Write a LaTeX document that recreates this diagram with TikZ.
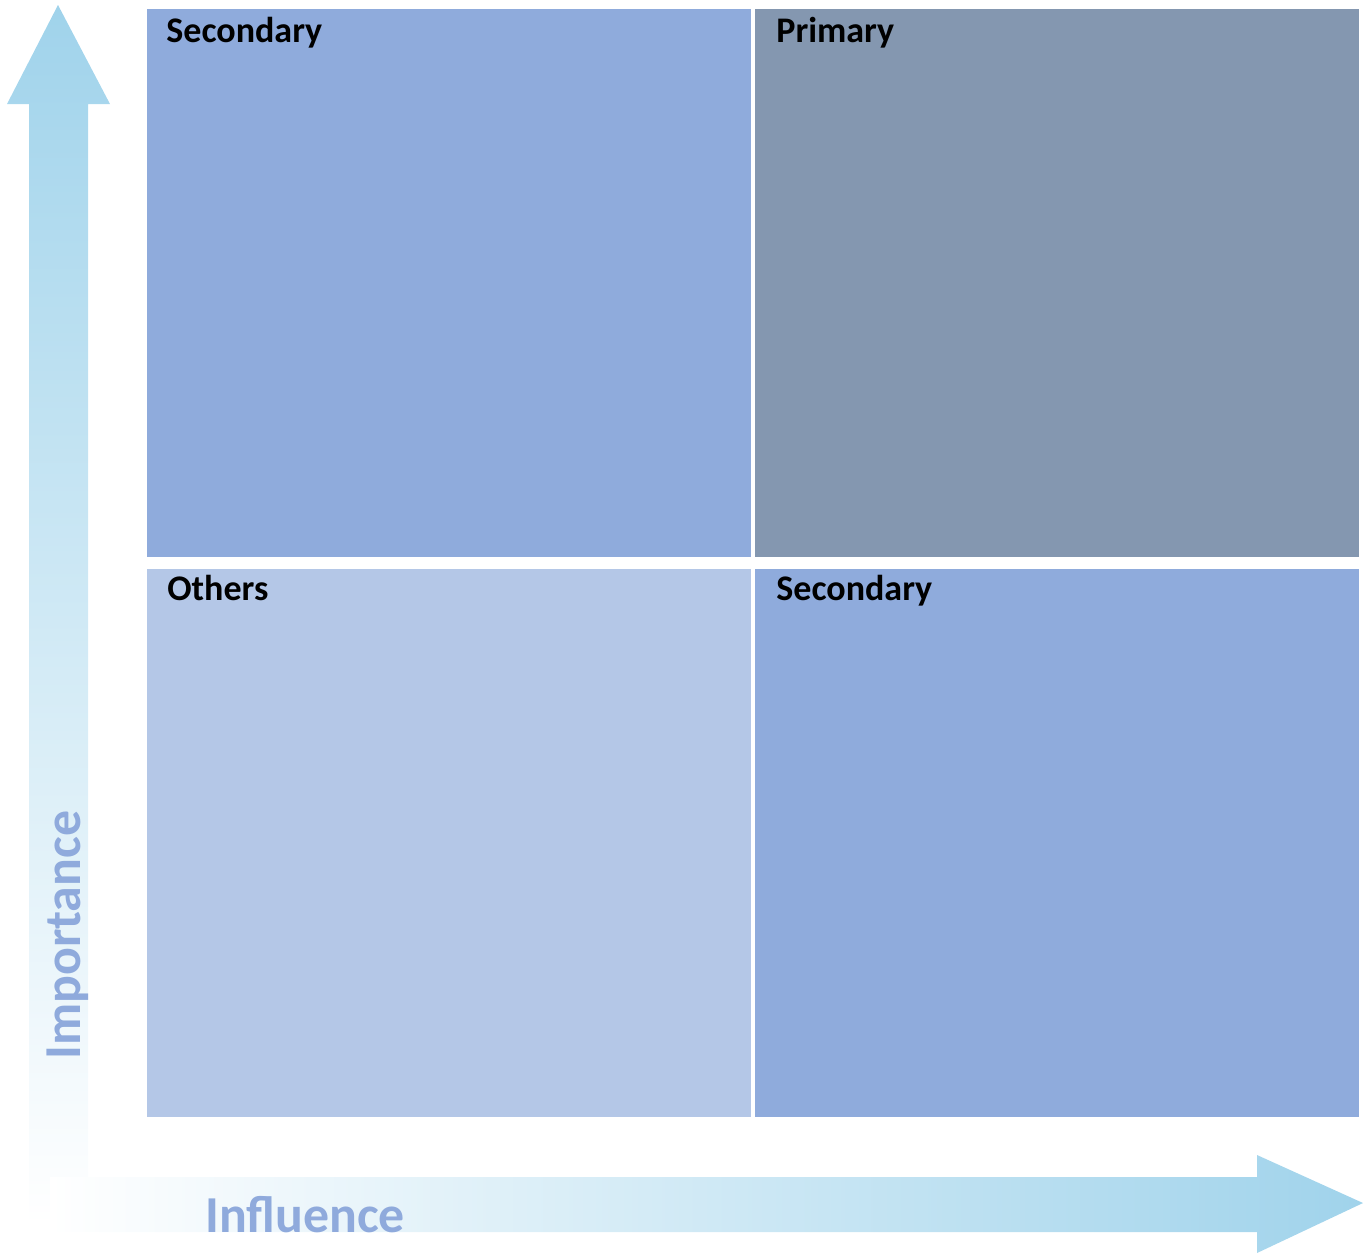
\documentclass[tikz,border=0pt]{standalone}
\usepackage{fontspec}
\setmainfont{Carlito}
\usepackage{tikz}
\usetikzlibrary{calc,positioning}

\definecolor{arrowblue}{RGB}{160,211,235}
\definecolor{axistext}{RGB}{143,170,220}
\definecolor{secondblue}{RGB}{143,171,220}
\definecolor{primegray}{RGB}{132,151,176}
\definecolor{otherblue}{RGB}{180,199,231}

\tikzset{
  quad/.style={draw=white, line width=0.4pt, inner sep=0pt, anchor=north west,
    minimum width=605*0.02cm, minimum height=549*0.02cm},
  quadlabel/.style={font=\bfseries\fontsize{20.5}{24}\selectfont, anchor=base west, inner sep=0pt},
  axislabel/.style={font=\bfseries\fontsize{29.5}{34}\selectfont, text=axistext, anchor=base west, inner sep=0pt}
}

\begin{document}
\begin{tikzpicture}[x=0.02cm,y=-0.02cm]
  \useasboundingbox (0,0) rectangle (1369,1255);

  % axis arrows
  \shade[top color=arrowblue, middle color=arrowblue!40!white, bottom color=white]
    (58,5)--(110,104)--(88,104)--(88,1225)--(29,1225)--(29,104)--(7,104)--cycle;
  \shade[left color=white, middle color=arrowblue!45!white, right color=arrowblue]
    (50,1177)--(1257,1177)--(1257,1155)--(1363,1203)--(1257,1253)--(1257,1232)--(50,1232)--cycle;

  % quadrants
  \node[quad, fill=secondblue] (q1) at (146,8) {};
  \node[quad, fill=primegray] (q2) at (754,8) {};
  \node[quad, fill=otherblue] (q3) at (146,568) {};
  \node[quad, fill=secondblue] (q4) at (754,568) {};

  \node[quadlabel] (l1) at ($(q1.north west)+(20,34)$) {Secondary};
  \node[quadlabel] (l2) at ($(q2.north west)+(22,34)$) {Primary};
  \node[quadlabel] (l3) at ($(q3.north west)+(21,32)$) {Others};
  \node[quadlabel] (l4) at ($(q4.north west)+(22,32)$) {Secondary};

  \node[axislabel, rotate=90] (imp) at (80,1060) {Importance};
  \node[axislabel] (inf) at (205,1232) {Influence};
\end{tikzpicture}
\end{document}
